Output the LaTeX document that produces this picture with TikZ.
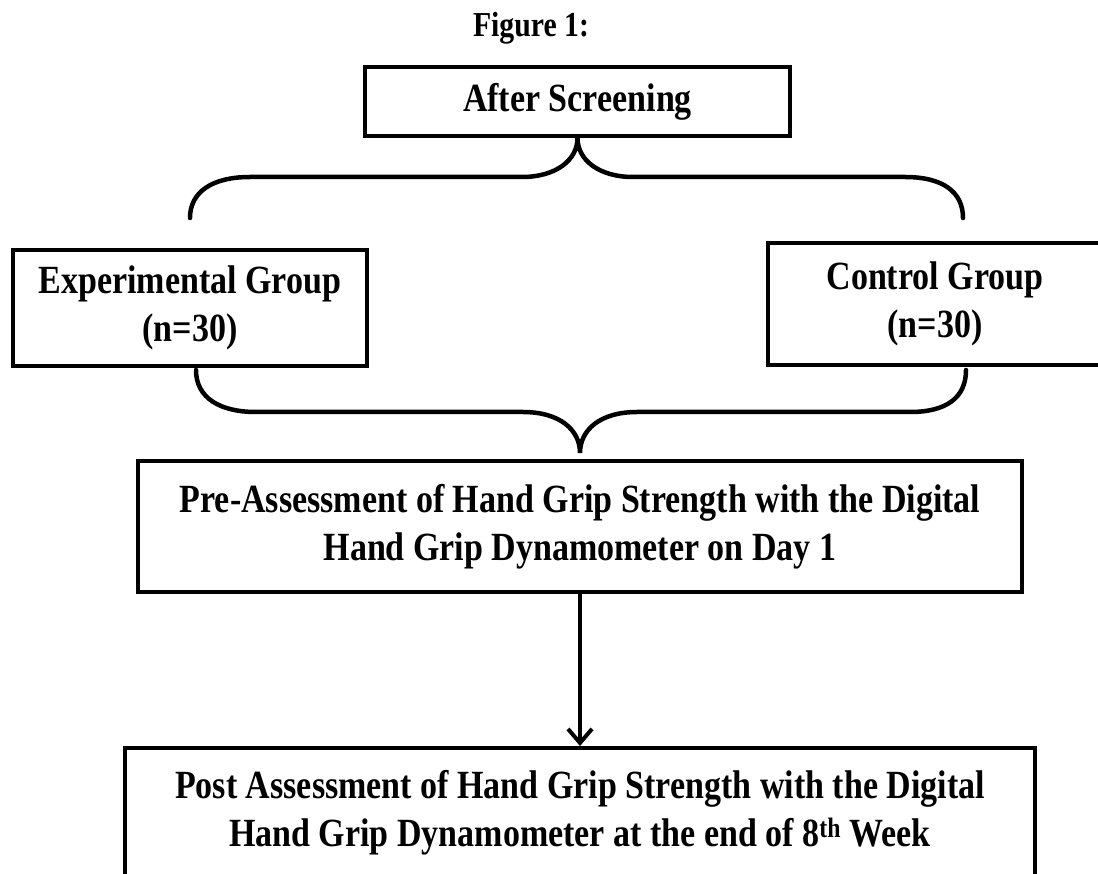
\documentclass[tikz,border=0pt]{standalone}
\usepackage{fontspec}
\setmainfont{Liberation Serif}[FakeStretch=0.85]
\usetikzlibrary{arrows.meta}
\tikzset{ box/.style = { rectangle
                       , draw
                       , line width   = 4pt
                       , align        = center
                       , inner sep    = 0pt
                       , font         = \fontsize{40}{48}\selectfont\bfseries
                       },
          brc/.style = { draw
                       , line width   = 4.5pt
                       , line cap     = round
                       },
          arr/.style = { draw
                       , line width   = 4pt
                       , -{Straight Barb[length=14pt, width=24pt]}
                       }
        }
\begin{document}
\begin{tikzpicture}[x=1pt, y=-1pt]
            \useasboundingbox (0,0) rectangle (1098,874);
            \clip (0,0) rectangle (1098,874);
            \node[anchor=base, font=\fontsize{35}{40}\selectfont\bfseries] (fig) at (531,37) {Figure 1:};
            \node[box, minimum width=425pt, minimum height=69pt]  (scr)  at (577.5,101.5) {After Screening};
            \node[box, minimum width=354pt, minimum height=116pt] (exp)  at (190,308)     {Experimental Group\\(n=30)};
            \node[box, minimum width=334pt, minimum height=122pt] (ctl)  at (935,304)     {Control Group\\(n=30)};
            \node[box, minimum width=884pt, minimum height=131pt] (pre)  at (580,526.5)   {Pre-Assessment of Hand Grip Strength with the Digital\\Hand Grip Dynamometer on Day 1};
            \node[box, minimum width=910pt, minimum height=130pt] (post) at (580,813)     {Post Assessment of Hand Grip Strength with the Digital\\Hand Grip Dynamometer at the end of 8\textsuperscript{th} Week};
            % brace ends
            \coordinate (tl) at (190,218);
            \coordinate (tr) at (963,218);
            \coordinate (bl) at (196,370);
            \coordinate (br) at (966,370);
            \coordinate (bt) at (580,453);
            % upper brace
            \draw[brc] (tl) .. controls (190,192) and (212,177) .. (250,177)
                -- (522,177) .. controls (556,177) and (577.5,160) .. (scr.south)
                .. controls (577.5,160) and (599,177) .. (633,177)
                -- (905,177) .. controls (943,177) and (963,192) .. (tr);
            % lower brace
            \draw[brc] (bl) .. controls (196,398) and (220,412) .. (256,412)
                -- (523,412) .. controls (560,412) and (580,430) .. (bt)
                .. controls (580,430) and (600,412) .. (637,412)
                -- (910,412) .. controls (946,412) and (966,398) .. (br);
            \draw[arr] (pre) -- (post);
        \end{tikzpicture}
\end{document}
